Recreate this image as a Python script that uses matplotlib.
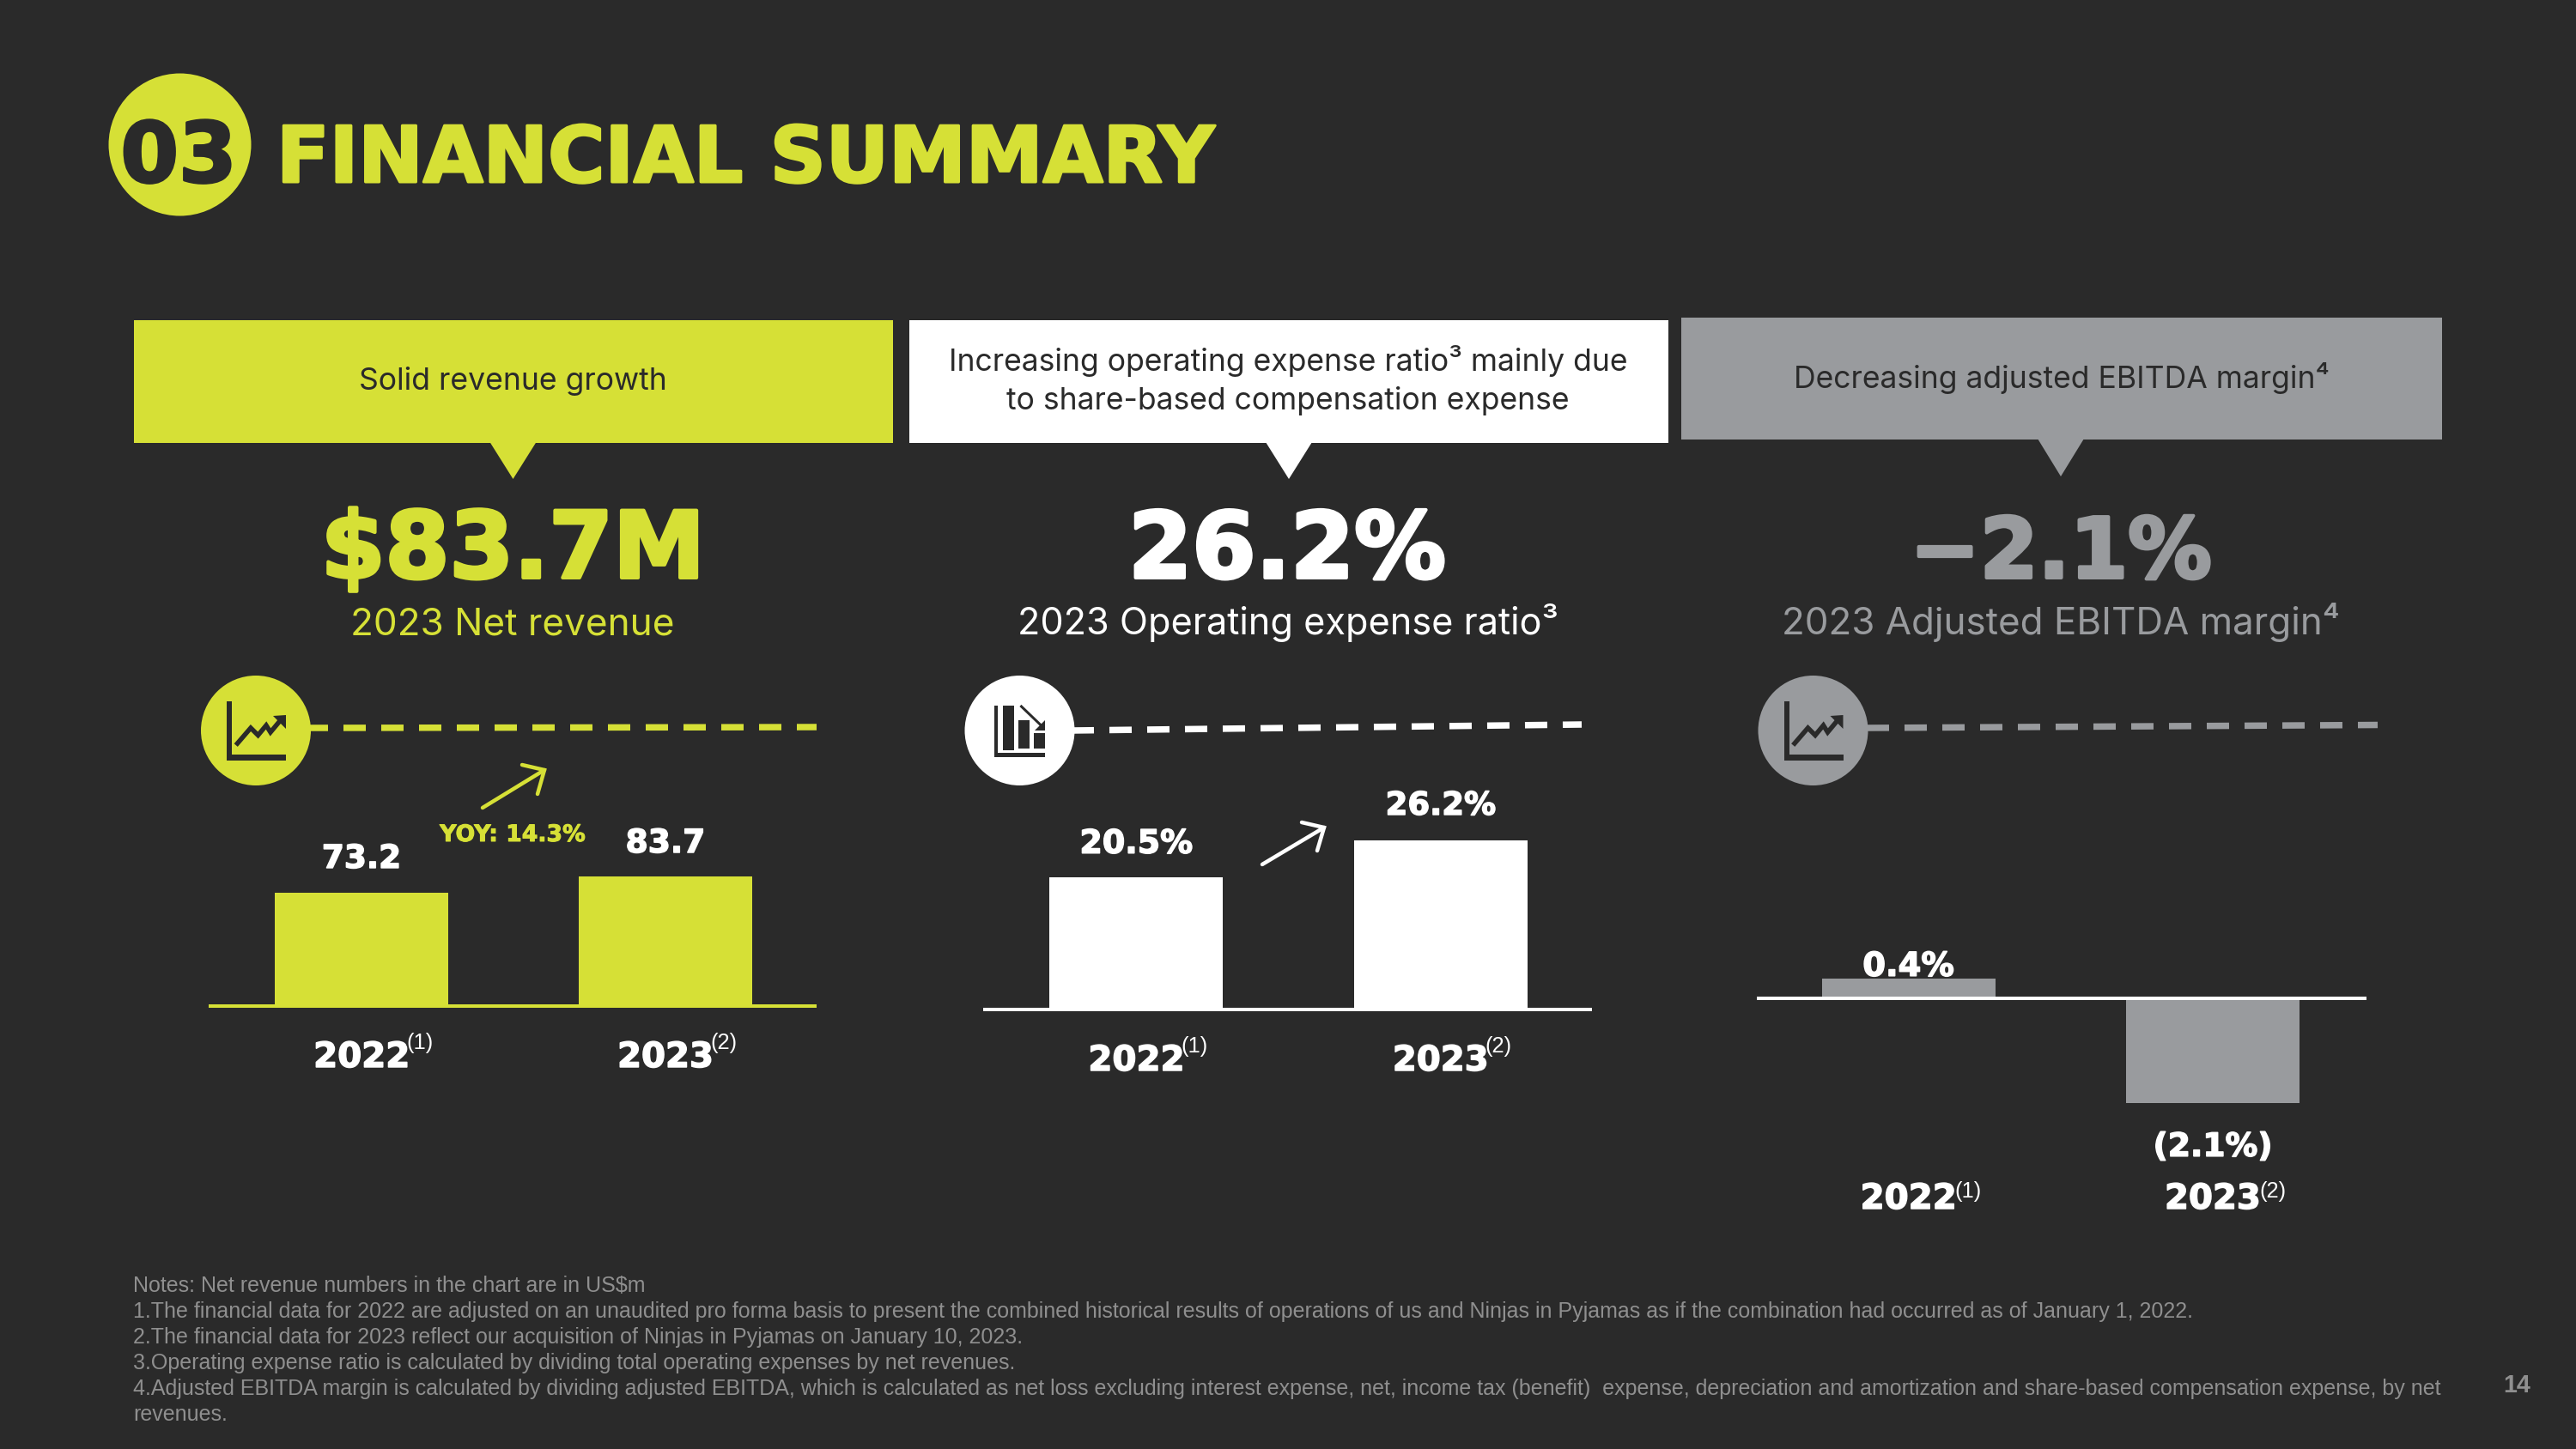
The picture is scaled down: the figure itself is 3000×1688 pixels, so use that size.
import matplotlib
matplotlib.use("Agg")
import matplotlib.pyplot as plt
import matplotlib.patheffects as pe
from matplotlib.font_manager import FontProperties
from matplotlib.patches import Circle, Polygon, Rectangle
from matplotlib.textpath import TextPath

# ---------- data ----------
categories = ["2022", "2023"]
footnote_marks = ["(1)", "(2)"]
net_revenue = [73.2, 83.7]
net_revenue_labels = ["73.2", "83.7"]
opex_ratio = [20.5, 26.2]
opex_ratio_labels = ["20.5%", "26.2%"]
ebitda_margin = [0.4, -2.1]
ebitda_margin_labels = ["0.4%", "(2.1%)"]
notes = [
    "Notes: Net revenue numbers in the chart are in US$m",
    "1.The financial data for 2022 are adjusted on an unaudited pro forma basis to present the combined historical results of operations of us and Ninjas in Pyjamas as if the combination had occurred as of January 1, 2022.",
    "2.The financial data for 2023 reflect our acquisition of Ninjas in Pyjamas on January 10, 2023.",
    "3.Operating expense ratio is calculated by dividing total operating expenses by net revenues.",
    "4.Adjusted EBITDA margin is calculated by dividing adjusted EBITDA, which is calculated as net loss excluding interest expense, net, income tax (benefit)  expense, depreciation and amortization and share-based compensation expense, by net",
    "revenues.",
]

# ---------- style ----------
BG, YEL, WHT, GRY, NOTE = "#2a2a2a", "#d6e036", "#ffffff", "#999b9e", "#8f8f8f"
BOLD = FontProperties(family="DejaVu Sans", weight="bold")
REG = FontProperties(family="Inter", weight="normal")
ARIAL = FontProperties(family="Liberation Sans")
ARIALB = FontProperties(family="Liberation Sans", weight="bold")
plt.rcParams["lines.scale_dashes"] = False
PX = 0.72


def fit(s, width, prop):
    w = TextPath((0, 0), s, size=100, prop=prop).get_extents().width
    return width * PX * 100 / w


def heavy(px, color):
    return [pe.withStroke(linewidth=px * PX, foreground=color)]


fig = plt.figure(figsize=(30, 16.88), dpi=100, facecolor=BG)
ov = fig.add_axes([0, 0, 1, 1], zorder=5)
ov.set_xlim(0, 3000)
ov.set_ylim(1688, 0)
ov.axis("off")


def T(x, y, s, width, prop, color, ha="center", stroke=0):
    t = ov.text(x, y, s, fontproperties=prop, fontsize=fit(s, width - stroke, prop), color=color, ha=ha, va="baseline")
    if stroke:
        t.set_path_effects(heavy(stroke, color))


# ---------- header ----------
ov.add_patch(Circle((209.5, 168.5), 83, color=YEL, lw=0))
T(208, 212, "03", 126, BOLD, BG, stroke=3)
T(322, 212, "FINANCIAL SUMMARY", 1088, BOLD, YEL, ha="left", stroke=3)

# ---------- call-out boxes ----------
boxes = [(156, 373, 884, 143, YEL, 597.5, 558), (1059, 373, 884, 143, WHT, 1501, 558), (1958, 370, 886, 142, GRY, 2400, 555)]
for x, y, w, h, c, tip, tipy in boxes:
    ov.add_patch(Rectangle((x, y), w, h, color=c, lw=0))
    ov.add_patch(Polygon([(tip - 27, y + h - 1), (tip + 27, y + h - 1), (tip, tipy)], color=c, lw=0))
T(597.5, 454, "Solid revenue growth", 355, REG, BG)
T(1500, 432, "Increasing operating expense ratio³ mainly due", 788, REG, BG)
T(1500, 477, "to share-based compensation expense", 654, REG, BG)
T(2401, 452, "Decreasing adjusted EBITDA margin⁴", 620, REG, BG)

# ---------- headline numbers ----------
T(597.5, 673, "$83.7M", 433, BOLD, YEL, stroke=4)
T(1499, 673, "26.2%", 362, BOLD, WHT, stroke=4)
T(2400, 673, "−2.1%", 342, BOLD, GRY, stroke=4)
T(597, 739, "2023 Net revenue", 372, REG, YEL)
T(1500, 739, "2023 Operating expense ratio³", 624, REG, WHT)
T(2400, 739, "2023 Adjusted EBITDA margin⁴", 645, REG, GRY)


# ---------- dashed lines + icons ----------
def dashed(x0, y0, x1, y1, c):
    ov.plot([x0, x1], [y0, y1], color=c, lw=7.5 * PX, dashes=(26 * PX, 18 * PX), dash_capstyle="butt", zorder=2)


def line_icon(cx, cy, c):
    ov.add_patch(Circle((cx, cy), 64, color=c, lw=0, zorder=3))
    ov.add_patch(Polygon([(cx + a, cy + b) for a, b in [(-34, -34), (-28, -34), (-28, 28), (35, 28), (35, 35), (-34, 35)]], color=BG, lw=0, zorder=4))
    zig = [(-21.5, 15), (-6, -3), (2.5, 5.5), (12, -6), (17, 2), (29.5, -13)]
    ov.plot([cx + a for a, b in zig], [cy + b for a, b in zig], color=BG, lw=5.5 * PX, zorder=4, solid_joinstyle="miter")
    ov.add_patch(Polygon([(cx + 20, cy - 17), (cx + 35, cy - 18), (cx + 35, cy - 2)], color=BG, lw=0, zorder=4))


def bar_icon(cx, cy, c):
    ov.add_patch(Circle((cx, cy), 64, color=c, lw=0, zorder=3))
    ov.add_patch(Polygon([(cx + a, cy + b) for a, b in [(-30, -29), (-26, -29), (-26, 25.5), (29.5, 25.5), (29.5, 30.5), (-30, 30.5)]], color=BG, lw=0, zorder=4))
    for a, b, top, bot in [(-20, -6.5, -29, 22.5), (-2, 11.5, -12, 20.5), (16.5, 29, 3, 20.5)]:
        ov.add_patch(Rectangle((cx + a, cy + top), b - a, bot - top, color=BG, lw=0, zorder=4))
    ov.plot([cx + 2, cx + 27], [cy - 28, cy - 4], color=BG, lw=3 * PX, zorder=4)
    ov.add_patch(Polygon([(cx + 29, cy - 12), (cx + 29, cy), (cx + 17, cy)], color=BG, lw=0, zorder=4))


dashed(356, 848, 951, 847, YEL)
dashed(1248, 851, 1842, 844, WHT)
dashed(2174, 848, 2769, 844.5, GRY)
line_icon(298, 851, YEL)
bar_icon(1187.5, 851, WHT)
line_icon(2111.5, 851, GRY)


# ---------- arrows ----------
def arrow(tail, tip, h1, h2, c):
    ov.plot([tail[0], tip[0]], [tail[1], tip[1]], color=c, lw=4.5 * PX, solid_capstyle="round")
    ov.plot([h1[0], tip[0], h2[0]], [h1[1], tip[1], h2[1]], color=c, lw=4.5 * PX, solid_capstyle="round", solid_joinstyle="miter")


arrow((562, 941), (634, 897), (608, 891), (626, 925), YEL)
arrow((1470, 1007), (1542, 964), (1516, 958), (1534, 991), WHT)
T(597, 980, "YOY: 14.3%", 170, BOLD, YEL, stroke=1)


# ---------- charts ----------
def chart(values, labels, left, right, base, scale, bar_color, axis_color, top, bottom, gaps, label_widths, cat_drop, sup_dx, sup_rise, xlim):
    ax = fig.add_axes([left / 3000, 1 - bottom / 1688, (right - left) / 3000, (bottom - top) / 1688], zorder=3)
    ax.patch.set_visible(False)
    ax.set_xlim(*xlim)
    ax.set_ylim((base - bottom) / scale, (base - top) / scale)
    ax.bar(range(len(values)), values, width=0.57, color=bar_color, linewidth=0)
    for s in ("top", "left", "right"):
        ax.spines[s].set_visible(False)
    sp = ax.spines["bottom"]
    sp.set_position(("data", 0))
    sp.set_color(axis_color)
    sp.set_linewidth(4 * PX)
    sp.set_capstyle("butt")
    ax.set_xticks([])
    ax.set_yticks([])
    for i, v in enumerate(values):
        a = ax.annotate(labels[i], (i, v), xytext=(0, gaps[i] * PX), textcoords="offset points", ha="center", va="baseline",
                        color=WHT, fontproperties=BOLD, fontsize=fit(labels[i], label_widths[i] - 1.5, BOLD), annotation_clip=False)
        a.set_path_effects(heavy(1.5, WHT))
        c = ax.annotate(categories[i], (i, 0), xytext=(0, -cat_drop * PX), textcoords="offset points", ha="center", va="baseline",
                        color=WHT, fontproperties=BOLD, fontsize=fit(categories[i], 105.5, BOLD), annotation_clip=False)
        c.set_path_effects(heavy(1.5, WHT))
        ax.annotate(footnote_marks[i], (i, 0), xytext=(sup_dx * PX, (sup_rise - cat_drop) * PX), textcoords="offset points", ha="left", va="baseline",
                    color=WHT, fontproperties=ARIAL, fontsize=fit(footnote_marks[i], 28, ARIAL), annotation_clip=False)


chart(net_revenue, net_revenue_labels, 243, 951, 1172, 1.804, YEL, YEL, 1000, 1180, [29, 28], [88, 89], 71, 52, 21, (-0.503, 1.497))
chart(opex_ratio, opex_ratio_labels, 1145, 1854, 1175.5, 7.5, WHT, WHT, 960, 1184, [28, 30], [129, 126], 71.5, 52, 21, (-0.503, 1.497))
chart(ebitda_margin, ebitda_margin_labels, 2046, 2756, 1163, 58, GRY, WHT, 1100, 1300, [3, -62], [105, 134], 245, 54, 13, (-0.498, 1.505))

# ---------- notes ----------
note_size = fit(notes[1], 2397, ARIAL)
for s, y in zip(notes, [1505, 1535, 1565, 1595, 1625, 1655]):
    ov.text(155, y, s, fontproperties=ARIAL, fontsize=note_size, color=NOTE, ha="left", va="baseline")
T(2931, 1622, "14", 30, ARIALB, NOTE)

fig.savefig("out.png", dpi=100, facecolor=BG)
